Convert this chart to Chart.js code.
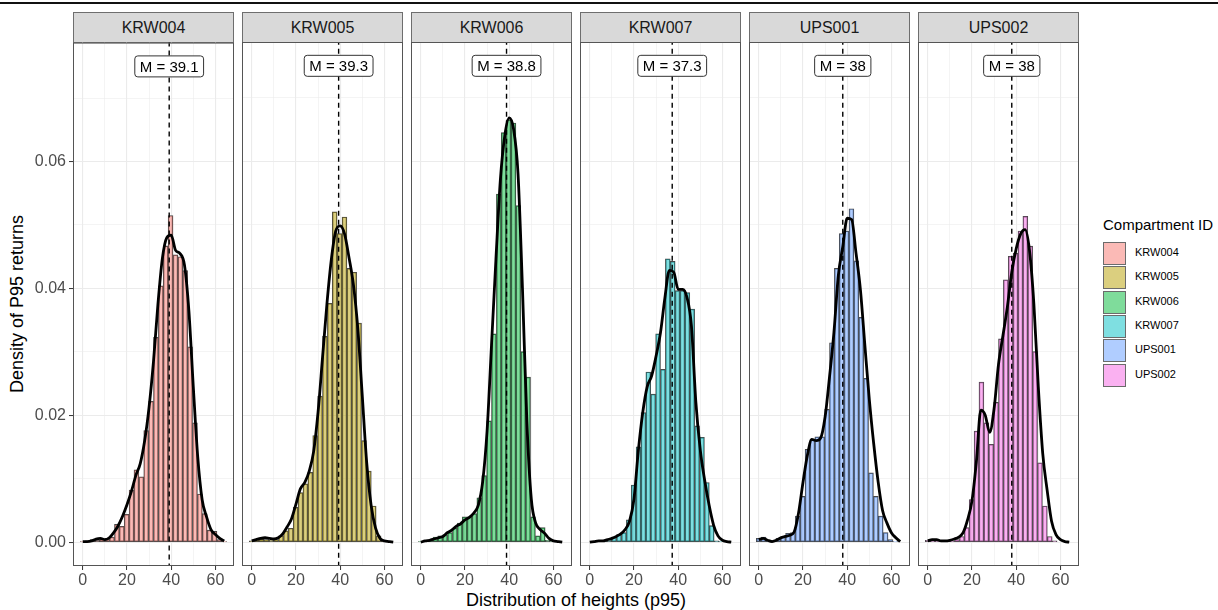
<!DOCTYPE html>
<html>
<head>
<meta charset="utf-8">
<script src="https://cdn.jsdelivr.net/npm/chart.js@4.4.1/dist/chart.umd.min.js"></script>
<style>
  body { margin: 0; width: 1218px; height: 610px; background: #fff; position: relative; overflow: hidden;
         font-family: "Liberation Sans", Arial, sans-serif; }
  canvas { position: absolute; }
  .topline { position: absolute; left: 0; top: 2px; width: 1218px; height: 2px; background: #111; }
  .strip { position: absolute; top: 12px; height: 31px; width: 161px; box-sizing: border-box; background: #d9d9d9;
           border: 1px solid #6e6e6e; text-align: center; line-height: 29px; font-size: 16px; color: #1a1a1a; }
  .ytitle { position: absolute; left: 17px; top: 304px; transform: translate(-50%, -50%) rotate(-90deg);
            font-size: 18px; white-space: nowrap; color: #000; }
  .xtitle { position: absolute; left: 576px; top: 600px; transform: translate(-50%, -50%);
            font-size: 18px; white-space: nowrap; color: #000; }
  .ltitle { position: absolute; left: 1103px; top: 216px; font-size: 15px; color: #000; white-space: nowrap; }
  .lkey { position: absolute; left: 1103px; width: 23px; height: 23px; box-sizing: border-box; border: 1px solid #6b6b6b; }
  .llab { position: absolute; left: 1135px; font-size: 11px; color: #000; }
</style>
</head>
<body>
<div class="topline"></div>
<div class="ytitle">Density of P95 returns</div>
<div class="xtitle">Distribution of heights (p95)</div>
<div class="ltitle">Compartment ID</div>
<script>
// ---- data ----
const compartments = ["KRW004", "KRW005", "KRW006", "KRW007", "UPS001", "UPS002"];
const means = [39.1, 39.3, 38.8, 37.3, 38, 38];
const labelY = 0.075;

// histogram bin centres (30 bins shared by all facets)
const binCenters = [0, 2.21, 4.41, 6.62, 8.83, 11.03, 13.24, 15.45, 17.66, 19.86, 22.07, 24.28, 26.48, 28.69,
  30.9, 33.1, 35.31, 37.52, 39.72, 41.93, 44.14, 46.34, 48.55, 50.76, 52.97, 55.17, 57.38, 59.59, 61.79, 64];

const histKRW004 = [0.0001, 0.0002, 0.0004, 0.0003, 0.0005, 0.0006, 0.0008, 0.0028, 0.0025, 0.0044, 0.0082, 0.0114,
  0.0103, 0.0176, 0.0222, 0.0323, 0.0404, 0.0467, 0.0515, 0.0453, 0.0450, 0.0428, 0.0308, 0.0188, 0.0076, 0.0045,
  0.0019, 0.0017, 0.0004, 0.0001];
const histKRW005 = [0.0002, 0.0004, 0.0005, 0.0004, 0.0003, 0.0004, 0.0010, 0.0018, 0.0022, 0.0055, 0.0078, 0.0092,
  0.0110, 0.0168, 0.0230, 0.0324, 0.0376, 0.0520, 0.0486, 0.0512, 0.0431, 0.0425, 0.0345, 0.0160, 0.0112, 0.0057,
  0.0010, 0.0002, 0.0001, 0.0000];
const histKRW006 = [0.0001, 0.0002, 0.0004, 0.0008, 0.0010, 0.0012, 0.0015, 0.0022, 0.0030, 0.0040, 0.0040, 0.0045,
  0.0070, 0.0105, 0.0191, 0.0328, 0.0548, 0.0645, 0.0665, 0.0660, 0.0530, 0.0300, 0.0260, 0.0040, 0.0010, 0.0023,
  0.0003, 0.0001, 0.0000, 0.0000];
const histKRW007 = [0.0000, 0.0001, 0.0001, 0.0002, 0.0003, 0.0008, 0.0012, 0.0015, 0.0035, 0.0090, 0.0150, 0.0204,
  0.0268, 0.0233, 0.0328, 0.0272, 0.0446, 0.0442, 0.0396, 0.0396, 0.0393, 0.0367, 0.0183, 0.0165, 0.0094, 0.0026,
  0.0002, 0.0001, 0.0000, 0.0000];
const histUPS001 = [0.0006, 0.0008, 0.0002, 0.0003, 0.0006, 0.0009, 0.0014, 0.0015, 0.0041, 0.0072, 0.0146, 0.0162,
  0.0166, 0.0166, 0.0209, 0.0314, 0.0431, 0.0486, 0.0490, 0.0525, 0.0443, 0.0354, 0.0258, 0.0109, 0.0072, 0.0041,
  0.0015, 0.0004, 0.0001, 0.0000];
const histUPS002 = [0.0003, 0.0002, 0.0002, 0.0002, 0.0002, 0.0002, 0.0004, 0.0009, 0.0023, 0.0067, 0.0175, 0.0252,
  0.0188, 0.0154, 0.0220, 0.0320, 0.0413, 0.0450, 0.0455, 0.0490, 0.0513, 0.0466, 0.0300, 0.0125, 0.0057, 0.0009,
  0.0002, 0.0000, 0.0000, 0.0000];

// density curves sampled every 2 m
const densX = [0, 2, 4, 6, 8, 10, 12, 14, 16, 18, 20, 22, 24, 26, 28, 30, 32, 34, 36, 38, 40, 42, 44, 46, 48, 50,
  52, 54, 56, 58, 60, 62, 64];
const densKRW004 = [0.0001, 0.0001, 0.0002, 0.0005, 0.0006, 0.0004, 0.0007, 0.0015, 0.0026, 0.0041, 0.0059, 0.0080,
  0.0105, 0.0124, 0.0160, 0.0213, 0.0285, 0.0375, 0.0447, 0.0480, 0.0484, 0.0460, 0.0455, 0.0437, 0.0365, 0.0245,
  0.0135, 0.0067, 0.0040, 0.0020, 0.0012, 0.0006, 0.0002];
const densKRW005 = [0.0002, 0.0004, 0.0006, 0.0007, 0.0006, 0.0005, 0.0007, 0.0013, 0.0024, 0.0037, 0.0060, 0.0084,
  0.0094, 0.0112, 0.0143, 0.0205, 0.0290, 0.0375, 0.0445, 0.0490, 0.0498, 0.0485, 0.0448, 0.0405, 0.0335, 0.0230,
  0.0125, 0.0058, 0.0022, 0.0006, 0.0002, 0.0001, 0.0000];
const densKRW006 = [0.0000, 0.0002, 0.0003, 0.0005, 0.0007, 0.0009, 0.0015, 0.0019, 0.0025, 0.0029, 0.0035, 0.0039,
  0.0046, 0.0058, 0.0095, 0.0175, 0.0310, 0.0445, 0.0570, 0.0640, 0.0668, 0.0650, 0.0580, 0.0400, 0.0190, 0.0068,
  0.0030, 0.0020, 0.0014, 0.0006, 0.0002, 0.0001, 0.0000];
const densKRW007 = [0.0000, 0.0001, 0.0002, 0.0002, 0.0004, 0.0006, 0.0009, 0.0013, 0.0020, 0.0033, 0.0068, 0.0145,
  0.0205, 0.0245, 0.0262, 0.0293, 0.0330, 0.0385, 0.0428, 0.0425, 0.0398, 0.0398, 0.0385, 0.0340, 0.0220, 0.0145,
  0.0097, 0.0058, 0.0027, 0.0010, 0.0003, 0.0001, 0.0000];
const densUPS001 = [0.0004, 0.0006, 0.0003, 0.0001, 0.0003, 0.0007, 0.0009, 0.0011, 0.0016, 0.0046, 0.0094, 0.0137,
  0.0162, 0.0160, 0.0164, 0.0197, 0.0260, 0.0330, 0.0420, 0.0465, 0.0510, 0.0508, 0.0455, 0.0397, 0.0310, 0.0225,
  0.0155, 0.0095, 0.0050, 0.0030, 0.0015, 0.0007, 0.0001];
const densUPS002 = [0.0002, 0.0004, 0.0004, 0.0002, 0.0002, 0.0003, 0.0005, 0.0008, 0.0015, 0.0035, 0.0065, 0.0127,
  0.0208, 0.0200, 0.0173, 0.0210, 0.0280, 0.0325, 0.0370, 0.0425, 0.0462, 0.0485, 0.0492, 0.0460, 0.0375, 0.0245,
  0.0140, 0.0082, 0.0033, 0.0012, 0.0004, 0.0001, 0.0000];

const xTicks = [0, 20, 40, 60];
const yTicks = [0, 0.02, 0.04, 0.06];

const histSeries = [histKRW004, histKRW005, histKRW006, histKRW007, histUPS001, histUPS002];
const densSeries = [densKRW004, densKRW005, densKRW006, densKRW007, densUPS001, densUPS002];

// ---- styling / layout ----
const fills = ["rgba(248,118,109,0.5)", "rgba(183,159,0,0.5)", "rgba(0,186,56,0.5)",
  "rgba(0,191,196,0.5)", "rgba(97,156,255,0.5)", "rgba(245,100,227,0.5)"];
const FONT = "'Liberation Sans', Arial, sans-serif";
const PANEL_W = 161, PANEL_H = 524, PANEL_TOP = 42, FIRST_LEFT = 73, STEP = 169;
const Y_AXIS_W = 72, X_AXIS_H = 30, PAD_TOP = 12;

Chart.defaults.font.family = FONT;
Chart.defaults.animation = false;

const isMajorX = v => xTicks.includes(v);
const isMajorY = v => yTicks.some(t => Math.abs(t - v) < 1e-9);

const panelPlugin = {
  id: "panel",
  afterDatasetsDraw(chart, args, opts) {
    const { ctx, scales: { x, y } } = chart;
    const px = x.getPixelForValue(opts.mean);
    const py = y.getPixelForValue(labelY);
    const text = "M = " + opts.mean;
    ctx.save();
    ctx.font = "15px " + FONT;
    const w = ctx.measureText(text).width + 10, h = 21;
    ctx.beginPath();
    ctx.roundRect(px - w / 2, py - h / 2, w, h, 3);
    ctx.fillStyle = "#fff";
    ctx.fill();
    ctx.strokeStyle = "#333";
    ctx.lineWidth = 1;
    ctx.stroke();
    ctx.fillStyle = "#000";
    ctx.textAlign = "center";
    ctx.textBaseline = "middle";
    ctx.fillText(text, px, py + 1);
    ctx.restore();
  },
  afterDraw(chart) {
    const { ctx, chartArea: a } = chart;
    ctx.save();
    ctx.strokeStyle = "#555";
    ctx.lineWidth = 1;
    ctx.strokeRect(a.left + 0.5, a.top + 0.5, a.right - a.left - 1, a.bottom - a.top - 1);
    ctx.restore();
  }
};

compartments.forEach((name, i) => {
  const left = FIRST_LEFT + i * STEP;
  const yw = i === 0 ? Y_AXIS_W : 0;

  const strip = document.createElement("div");
  strip.className = "strip";
  strip.style.left = left + "px";
  strip.textContent = name;
  document.body.appendChild(strip);

  const canvas = document.createElement("canvas");
  canvas.width = 1 + yw + PANEL_W + 1;
  canvas.height = PAD_TOP + PANEL_H + X_AXIS_H;
  canvas.style.left = (left - yw - 1) + "px";
  canvas.style.top = (PANEL_TOP - PAD_TOP) + "px";
  document.body.appendChild(canvas);

  new Chart(canvas, {
    type: "bar",
    data: {
      datasets: [
        {
          type: "bar",
          data: binCenters.map((b, k) => ({ x: b, y: histSeries[i][k] })),
          backgroundColor: fills[i],
          borderColor: "#474747",
          borderWidth: 0.8,
          borderSkipped: false,
          barPercentage: 1,
          categoryPercentage: 1,
          order: 3
        },
        {
          type: "line",
          data: densX.map((d, k) => ({ x: d, y: densSeries[i][k] })),
          borderColor: "#000",
          borderWidth: 2.8,
          pointRadius: 0,
          cubicInterpolationMode: "monotone",
          fill: false,
          order: 2
        },
        {
          type: "line",
          data: [{ x: means[i], y: -1 }, { x: means[i], y: 1 }],
          borderColor: "#000",
          borderWidth: 1.4,
          borderDash: [5, 4],
          pointRadius: 0,
          order: 1
        }
      ]
    },
    options: {
      responsive: false,
      layout: { padding: { left: 1, right: 1, top: PAD_TOP, bottom: 0 } },
      plugins: { legend: { display: false }, tooltip: { enabled: false }, panel: { mean: means[i] } },
      scales: {
        x: {
          type: "linear",
          min: -4.41,
          max: 68.41,
          offset: false,
          border: { display: false },
          grid: {
            offset: false,
            color: "#ebebeb",
            lineWidth: c => (isMajorX(c.tick.value) ? 1.1 : 0.55),
            tickColor: c => (isMajorX(c.tick.value) ? "#333" : "rgba(0,0,0,0)"),
            tickLength: 4,
            tickWidth: 1
          },
          ticks: {
            stepSize: 10,
            includeBounds: false,
            autoSkip: false,
            maxRotation: 0,
            padding: 1,
            color: "#4d4d4d",
            font: { size: 16 },
            callback: v => (isMajorX(v) ? String(v) : "")
          },
          afterFit: s => { s.height = X_AXIS_H; }
        },
        y: {
          min: -0.00375,
          max: 0.07875,
          border: { display: false },
          grid: {
            color: "#ebebeb",
            lineWidth: c => (isMajorY(c.tick.value) ? 1.1 : 0.55),
            tickColor: c => (isMajorY(c.tick.value) ? "#333" : "rgba(0,0,0,0)"),
            drawTicks: i === 0,
            tickLength: 4,
            tickWidth: 1
          },
          ticks: {
            display: i === 0,
            stepSize: 0.01,
            includeBounds: false,
            padding: 3,
            color: "#4d4d4d",
            font: { size: 16 },
            callback: v => (isMajorY(v) ? v.toFixed(2) : "")
          },
          afterFit: s => { s.width = yw; }
        }
      }
    },
    plugins: [panelPlugin]
  });

  // legend entry
  const key = document.createElement("div");
  key.className = "lkey";
  key.style.top = (242 + i * 24.3).toFixed(1) + "px";
  key.style.background = fills[i];
  document.body.appendChild(key);
  const lab = document.createElement("div");
  lab.className = "llab";
  lab.style.top = (246 + i * 24.3).toFixed(1) + "px";
  lab.textContent = name;
  document.body.appendChild(lab);
});
</script>
</body>
</html>
